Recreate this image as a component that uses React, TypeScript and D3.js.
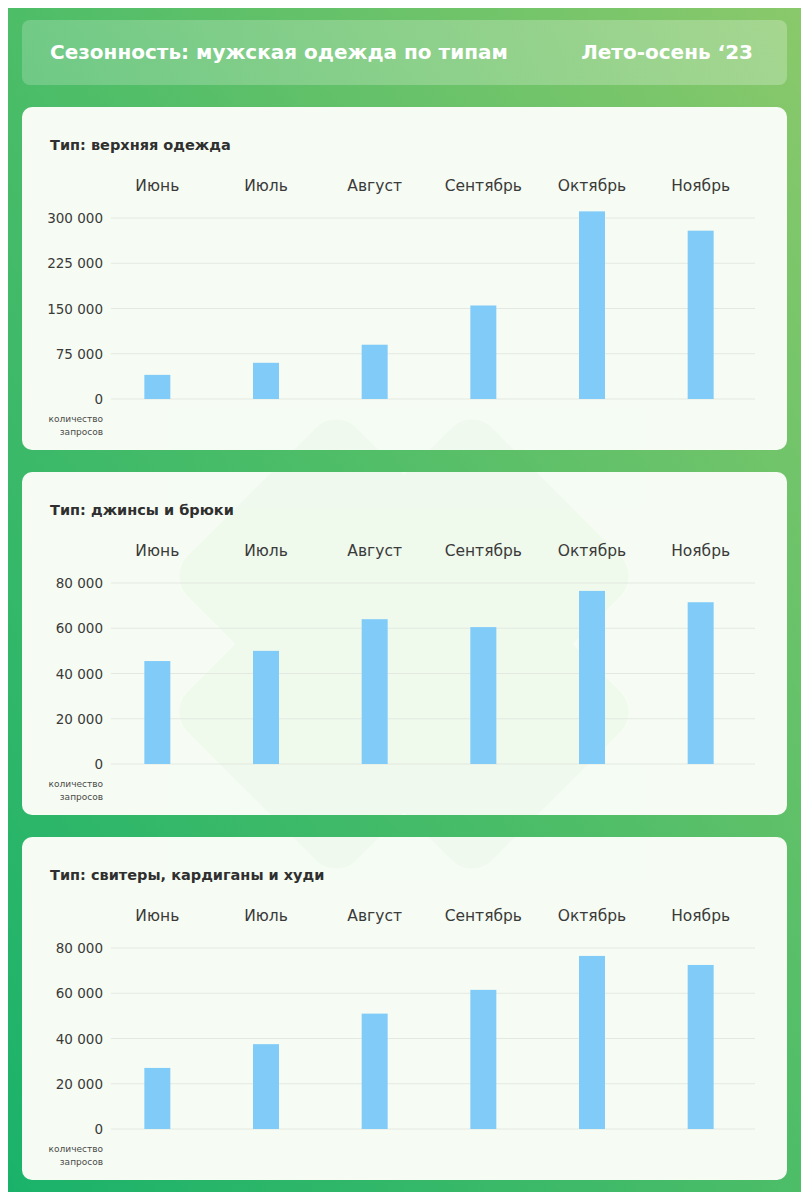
import React from 'react';
import * as d3 from 'd3';

const months = ['Июнь', 'Июль', 'Август', 'Сентябрь', 'Октябрь', 'Ноябрь'];

const outerwear = [40000, 60000, 90000, 155000, 311000, 279000];
const jeans = [45500, 50000, 64000, 60500, 76500, 71500];
const sweaters = [27000, 37500, 51000, 61500, 76500, 72500];

const outerwearTicks = [0, 75000, 150000, 225000, 300000];
const smallTicks = [0, 20000, 40000, 60000, 80000];

const panelTitles = ['Тип: верхняя одежда', 'Тип: джинсы и брюки', 'Тип: свитеры, кардиганы и худи'];
const headerTitle = 'Сезонность: мужская одежда по типам';
const headerPeriod = 'Лето-осень ‘23';
const axisNote = ['количество', 'запросов'];

const W = 809;
const H = 1200;
const FONT = '"DejaVu Sans", "Open Sans", sans-serif';

const locale = d3.formatLocale({ decimal: ',', thousands: '\u00a0', grouping: [3], currency: ['', ''] });
const fmt = locale.format(',d');

const panels = [
  { title: panelTitles[0], values: outerwear, ticks: outerwearTicks, max: 300000, top: 107 },
  { title: panelTitles[1], values: jeans, ticks: smallTicks, max: 80000, top: 472 },
  { title: panelTitles[2], values: sweaters, ticks: smallTicks, max: 80000, top: 837 },
];

const panelX = 22;
const panelW = 765;
const panelH = 343;

// x positions shared by all three charts
const x = d3.scalePoint<string>().domain(months).range([103, 755]).padding(0.5);
const barW = 26;

function Panel({ p }: { p: typeof panels[number] }) {
  const y = d3.scaleLinear().domain([0, p.max]).range([p.top + 292, p.top + 111]);
  return (
    <g>
      <text x={50} y={p.top + 43} fontFamily={FONT} fontWeight={700} fontSize={14.5} fill="#2f2f2f">
        {p.title}
      </text>
      {months.map(m => (
        <text key={m} x={x(m)} y={p.top + 84} textAnchor="middle" fontFamily={FONT} fontSize={15.5} fill="#3a3a3a">
          {m}
        </text>
      ))}
      {p.ticks.map(t => (
        <g key={t}>
          <line x1={111} x2={755} y1={y(t)} y2={y(t)} stroke="#e3e9e2" strokeWidth={1.2} />
          <text x={103} y={y(t) + 5} textAnchor="end" fontFamily={FONT} fontSize={13.5} fill="#3a3a3a">
            {fmt(t)}
          </text>
        </g>
      ))}
      {p.values.map((v, i) => (
        <rect
          key={months[i]}
          x={(x(months[i]) as number) - barW / 2}
          y={y(v)}
          width={barW}
          height={y(0) - y(v)}
          fill="#81cbf9"
        />
      ))}
      {axisNote.map((s, i) => (
        <text key={s} x={103} y={p.top + 315 + i * 12.5} textAnchor="end" fontFamily={FONT} fontSize={9} fill="#4a4a4a">
          {s}
        </text>
      ))}
    </g>
  );
}

export default function App() {
  const cx = 404;
  const cy = 644;
  return (
    <svg width={W} height={H} style={{ display: 'block', margin: '-8px' }}>
      <defs>
        <linearGradient id="bg" x1="0" y1="1" x2="1" y2="0">
          <stop offset="0" stopColor="#19b26a" />
          <stop offset="0.5" stopColor="#4dbd68" />
          <stop offset="1" stopColor="#8bc96b" />
        </linearGradient>
        <linearGradient id="hdr" x1="0" y1="0" x2="1" y2="0">
          <stop offset="0" stopColor="#ffffff" stopOpacity={0.2} />
          <stop offset="1" stopColor="#ffffff" stopOpacity={0.25} />
        </linearGradient>
        <clipPath id="panels">
          {panels.map(p => (
            <rect key={p.top} x={panelX} y={p.top} width={panelW} height={panelH} rx={10} />
          ))}
        </clipPath>
      </defs>
      <rect x={0} y={0} width={W} height={H} fill="url(#bg)" />

      <rect x={22} y={20} width={765} height={65} rx={8} fill="url(#hdr)" />
      <text x={50} y={59} fontFamily={FONT} fontWeight={700} fontSize={20} fill="#ffffff">
        {headerTitle}
      </text>
      <text x={753} y={59} textAnchor="end" fontFamily={FONT} fontWeight={700} fontSize={20} fill="#ffffff">
        {headerPeriod}
      </text>

      {panels.map(p => (
        <rect key={p.top} x={panelX} y={p.top} width={panelW} height={panelH} rx={10} fill="#f6fcf3" />
      ))}

      {/* faint watermark */}
      <g clipPath="url(#panels)" opacity={0.4}>
        <rect x={cx - 215} y={cy - 119} width={430} height={238} rx={28} fill="#e6f5e3" transform={`rotate(45 ${cx} ${cy})`} />
        <rect x={cx - 215} y={cy - 119} width={430} height={238} rx={28} fill="#e6f5e3" transform={`rotate(-45 ${cx} ${cy})`} />
      </g>

      {panels.map(p => (
        <Panel key={p.top} p={p} />
      ))}
    </svg>
  );
}
